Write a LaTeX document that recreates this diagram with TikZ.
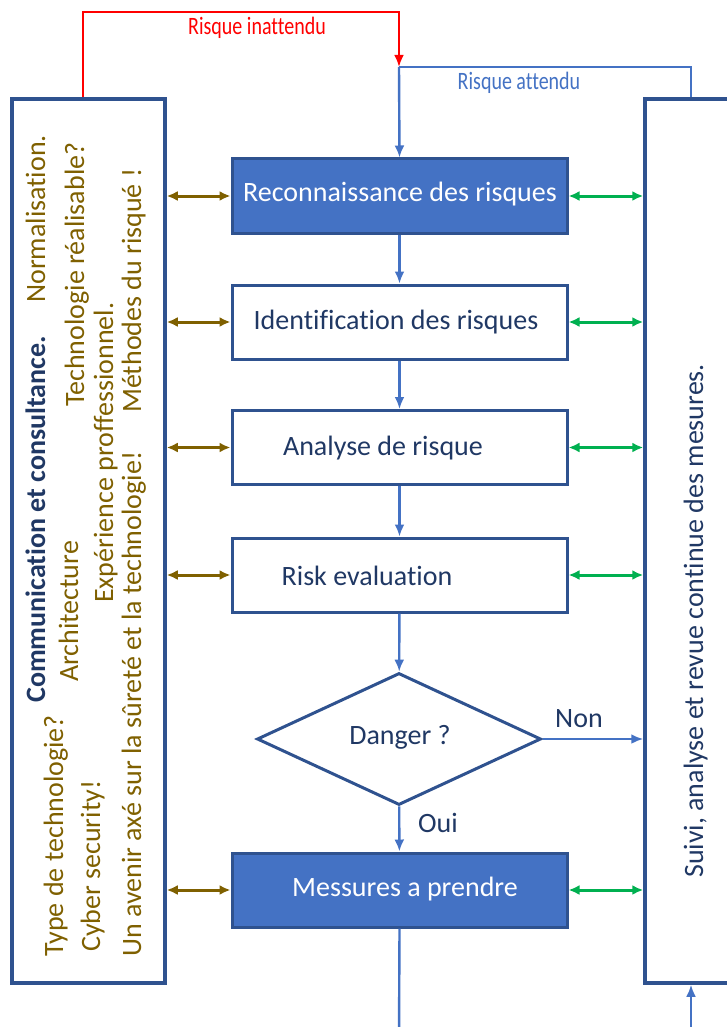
\documentclass[tikz,border=0pt]{standalone}
\usepackage{fontspec}
\setmainfont{Carlito}[Ligatures=NoCommon]
\newfontfamily\narrowfont[FakeStretch=0.8,Ligatures=NoCommon]{Carlito}
\usetikzlibrary{arrows.meta,shapes.geometric}
\definecolor{navy}{HTML}{203864}
\definecolor{bordr}{HTML}{2F528F}
\definecolor{fillb}{HTML}{4472C4}
\definecolor{brownc}{HTML}{7F6000}
\definecolor{greenc}{HTML}{00B050}
\definecolor{redc}{HTML}{FF0000}
\begin{document}
\begin{tikzpicture}[x=1pt,y=-1pt,
  font=\fontsize{28}{34}\selectfont,
  stepbox/.style={draw=bordr,line width=3pt,minimum width=335pt,minimum height=74pt,inner sep=0pt},
  filledbox/.style={stepbox,fill=fillb},
  sidebox/.style={draw=bordr,line width=3.5pt,inner sep=0pt},
  flow/.style={draw=fillb,line width=2.4pt,-{Latex[length=12pt,width=10pt]}},
  plain/.style={draw=fillb,line width=2.4pt},
  brownarrow/.style={draw=brownc,line width=3pt,{Latex[length=11pt,width=10pt]}-{Latex[length=11pt,width=10pt]}},
  greenarrow/.style={draw=greenc,line width=3pt,{Latex[length=11pt,width=10pt]}-{Latex[length=11pt,width=10pt]}},
  lefttxt/.style={rotate=90,anchor=base west,inner sep=0pt,text=brownc},
  boxtxt/.style={inner sep=0pt,text=navy},
  smalllabel/.style={inner sep=0pt,font=\narrowfont\fontsize{25}{30}\selectfont},
]
\useasboundingbox (0,0) rectangle (726,1027);

% side boxes
\node[sidebox,minimum width=153pt,minimum height=884pt] (lbox) at (88.5,541) {};
\node[sidebox,minimum width=130pt,minimum height=884pt] (rbox) at (710,541) {};

% flow boxes
\node[filledbox] (b1) at (399.5,196) {};
\node[stepbox] (b2) at (399.5,322) {};
\node[stepbox] (b3) at (399.5,447.5) {};
\node[stepbox] (b4) at (399.5,575) {};
\node[diamond,draw=bordr,line width=3pt,minimum width=284pt,minimum height=132pt,inner sep=0pt,aspect=2.15] (dia) at (399,739) {};
\node[filledbox] (b5) at (399.5,890) {};

% box texts
\node[boxtxt,text=white] (t1) at (400,194) {Reconnaissance des risques};
\node[boxtxt] (t2) at (396,322) {Identification des risques};
\node[boxtxt] (t3) at (383,448) {Analyse de risque};
\node[boxtxt] (t4) at (367,576) {Risk evaluation};
\node[boxtxt] (t5) at (400,737) {Danger ?};
\node[boxtxt,text=white] (t6) at (405,889) {Messures a prendre};

% vertical flow
\draw[flow] (b1) -- (b2);
\draw[flow] (b2) -- (b3);
\draw[flow] (b3) -- (b4);
\draw[flow] (b4) -- (dia);
\draw[flow] (dia) -- (b5);
\draw[flow] (dia.east) -- (dia.east -| rbox.west);
\node[boxtxt] (non) at (579,719) {Non};
\node[boxtxt] (oui) at (438,823) {Oui};

% side arrows
\foreach \b in {b1,b2,b3,b4,b5}{
  \draw[brownarrow] (lbox.east |- \b) -- (\b.west);
  \draw[greenarrow] (\b.east) -- (rbox.west |- \b);
}

% top loops
\coordinate (j) at (399,67);
\draw[draw=redc,line width=2.4pt,-{Latex[length=12pt,width=10pt]}]
  ([xshift=-5.5pt]lbox.north) -- ([xshift=-5.5pt]lbox.north |- 0,12) -| (j);
\node[smalllabel,text=redc] (rin) at (257,28) {Risque inattendu};
\draw[plain] ([xshift=47.5pt]rbox.north west) |- (j);
\draw[flow] (j) -- (b1.north);
\node[smalllabel,text=fillb] (rat) at (519,83) {Risque attendu};

% bottom
\coordinate (bot) at (399,1040);
\draw[plain] (b5.south) -- (bot);
\coordinate (rbot) at (691,1040);
\draw[flow] (rbot) -- (rbot |- rbox.south);

% left box text
\node[lefttxt,text=navy,font=\bfseries\fontsize{28}{34}\selectfont] (l1) at (45,703) {Communication et consultance.};
\node[lefttxt] (l2) at (45,303) {Normalisation.};
\node[lefttxt] (l3) at (63,957) {Type de technologie?};
\node[lefttxt] (l4) at (78,682) {Architecture};
\node[lefttxt] (l5) at (84,407) {Technologie réalisable?};
\node[lefttxt] (l6) at (100,952) {Cyber security!};
\node[lefttxt] (l7) at (113,603) {Expérience proffessionnel.};
\node[lefttxt] (l8) at (141,957) {Un avenir axé sur la sûreté et la technologie!};
\node[lefttxt] (l9) at (141,413) {Méthodes du risqué !};

% right box text
\node[rotate=90,anchor=base west,inner sep=0pt,text=navy] (r1) at (703,878) {Suivi, analyse et revue continue des mesures.};
\end{tikzpicture}
\end{document}
